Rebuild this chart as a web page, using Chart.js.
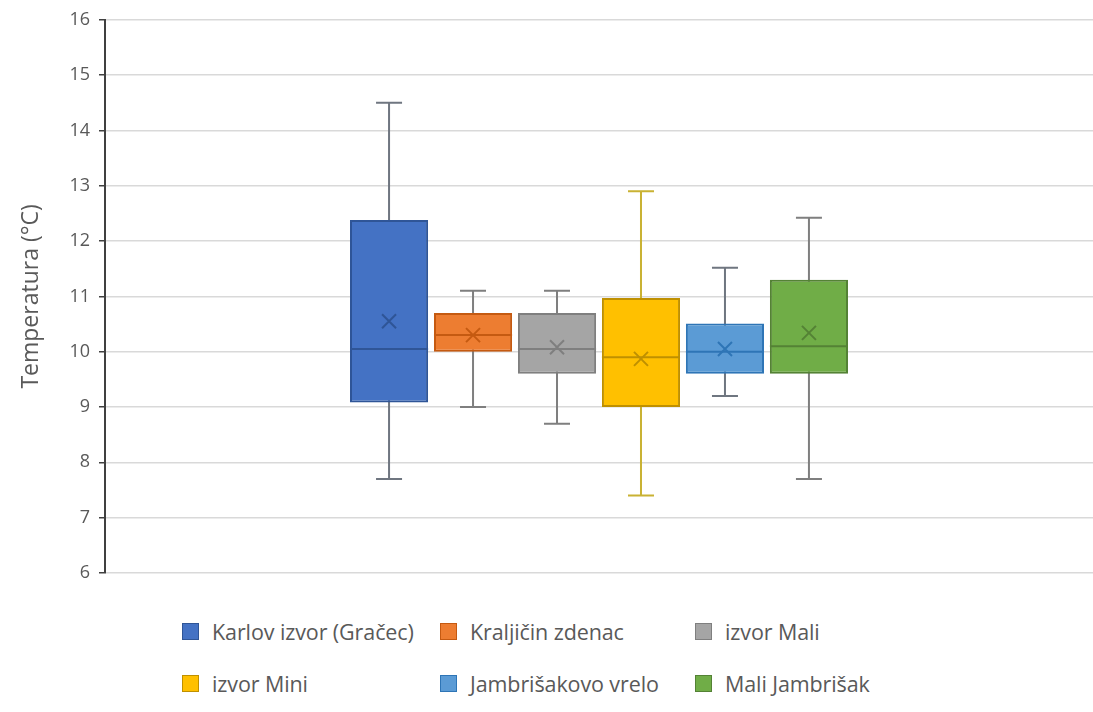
<!DOCTYPE html>
<html>
<head>
<meta charset="utf-8">
<script src="https://cdn.jsdelivr.net/npm/chart.js@4"></script>
<style>
    body { margin: 0; background: #fff; font-family: "Open Sans", sans-serif; }
    #wrap { position: relative; width: 1093px; height: 712px; }
    #box { position: absolute; left: 0; top: 0; width: 1093px; height: 600px; }
    #legend {
        position: absolute; left: 182px; top: 618px;
        display: grid; grid-template-columns: 258px 255px 260px;
        row-gap: 26px; color: #595959; font-size: 21.5px; letter-spacing: -0.1px;
    }
    .item { display: flex; align-items: center; height: 26px; white-space: nowrap; }
    .sw { width: 17px; height: 17px; margin-right: 13px; box-sizing: border-box; }
</style>
</head>
<body>
<div id="wrap">
    <div id="box"><canvas id="chart"></canvas></div>
    <div id="legend"></div>
</div>
<script>
//=================================================
//Data
//=================================================
const seriesNames = ["Karlov izvor (Gračec)", "Kraljičin zdenac", "izvor Mali", "izvor Mini", "Jambrišakovo vrelo", "Mali Jambrišak"];
const minVals = [7.7, 9.0, 8.7, 7.4, 9.2, 7.7];
const q1Vals = [9.08, 10.0, 9.6, 9.0, 9.6, 9.6];
const medianVals = [10.05, 10.3, 10.05, 9.9, 10.0, 10.1];
const q3Vals = [12.38, 10.7, 10.7, 10.97, 10.51, 11.3];
const maxVals = [14.5, 11.1, 11.1, 12.9, 11.52, 12.42];
const meanVals = [10.55, 10.3, 10.08, 9.87, 10.05, 10.34];
const yTicks = [6, 7, 8, 9, 10, 11, 12, 13, 14, 15, 16];

const fillColors = ["#4472c4", "#ed7d31", "#a5a5a5", "#ffc000", "#5b9bd5", "#70ad47"];
const edgeColors = ["#2f5597", "#c55a11", "#7f7f7f", "#bf9000", "#2e75b6", "#548235"];
const whiskerColors = ["#6f7680", "#7f7f7f", "#7f7f7f", "#c9b233", "#6f7680", "#7f7f7f"];

//=================================================
//Whiskers, median and mean marker
//=================================================
const boxPlotPlugin = {
    id: "boxPlot",
    beforeDatasetsDraw(chart) {
        const ctx = chart.ctx;
        const y = chart.scales.y;
        chart.data.datasets.forEach((ds, i) => {
            const bar = chart.getDatasetMeta(i).data[0];
            if (!bar) return;
            const x = bar.x;
            const cap = 13;
            ctx.save();
            ctx.strokeStyle = whiskerColors[i];
            ctx.lineWidth = 2;
            ctx.beginPath();
            ctx.moveTo(x, y.getPixelForValue(minVals[i]));
            ctx.lineTo(x, y.getPixelForValue(maxVals[i]));
            [minVals[i], maxVals[i]].forEach((v) => {
                const py = y.getPixelForValue(v);
                ctx.moveTo(x - cap, py);
                ctx.lineTo(x + cap, py);
            });
            ctx.stroke();
            ctx.restore();
        });
    },
    afterDatasetsDraw(chart) {
        const ctx = chart.ctx;
        const y = chart.scales.y;
        chart.data.datasets.forEach((ds, i) => {
            const bar = chart.getDatasetMeta(i).data[0];
            if (!bar) return;
            const x = bar.x;
            const half = bar.width / 2;
            ctx.save();
            ctx.strokeStyle = edgeColors[i];
            ctx.lineWidth = 2;
            const my = y.getPixelForValue(medianVals[i]);
            ctx.beginPath();
            ctx.moveTo(x - half, my);
            ctx.lineTo(x + half, my);
            ctx.stroke();
            const ay = y.getPixelForValue(meanVals[i]);
            const s = 7;
            ctx.beginPath();
            ctx.moveTo(x - s, ay - s);
            ctx.lineTo(x + s, ay + s);
            ctx.moveTo(x + s, ay - s);
            ctx.lineTo(x - s, ay + s);
            ctx.stroke();
            ctx.restore();
        });
    },
};

//=================================================
//Chart.js
//=================================================
const drawChart = () => {
    const datasets = seriesNames.map((name, i) => ({
        label: name,
        data: [[q1Vals[i], q3Vals[i]]],
        backgroundColor: fillColors[i],
        borderColor: edgeColors[i],
        borderWidth: 2,
        borderSkipped: false,
    }));

    const config = {
        type: "bar",
        data: { labels: [""], datasets: datasets },
        options: {
            responsive: true,
            maintainAspectRatio: false,
            animation: false,
            categoryPercentage: 0.51,
            barPercentage: 0.93,
            layout: { padding: { top: 7, right: 0, bottom: 19, left: 18 } },
            scales: {
                x: {
                    grid: { display: false },
                    border: { display: false },
                    ticks: { display: false },
                },
                y: {
                    min: 6,
                    max: 16,
                    afterBuildTicks: (scale) => {
                        scale.ticks = yTicks.map((v) => ({ value: v }));
                    },
                    afterFit: (scale) => {
                        scale.width = 87;
                    },
                    grid: {
                        color: "#d9d9d9",
                        tickColor: "#404040",
                        tickLength: 6,
                        lineWidth: 1.5,
                    },
                    border: { color: "#404040", width: 2 },
                    ticks: {
                        color: "#595959",
                        padding: 9,
                        font: { size: 18, family: "'Open Sans', sans-serif" },
                    },
                    title: {
                        display: true,
                        text: "Temperatura (°C)",
                        color: "#595959",
                        font: { size: 23, family: "'Open Sans', sans-serif" },
                        padding: { top: 0, bottom: 0 },
                    },
                },
            },
            plugins: {
                legend: { display: false },
                tooltip: { enabled: false },
            },
        },
        plugins: [boxPlotPlugin],
    };

    new Chart(document.getElementById("chart"), config);
};

const drawLegend = () => {
    const legend = document.getElementById("legend");
    seriesNames.forEach((name, i) => {
        const item = document.createElement("div");
        item.className = "item";
        const sw = document.createElement("span");
        sw.className = "sw";
        sw.style.background = fillColors[i];
        sw.style.border = "1px solid " + edgeColors[i];
        const label = document.createElement("span");
        label.textContent = name;
        item.appendChild(sw);
        item.appendChild(label);
        legend.appendChild(item);
    });
};

drawChart();
drawLegend();
</script>
</body>
</html>
